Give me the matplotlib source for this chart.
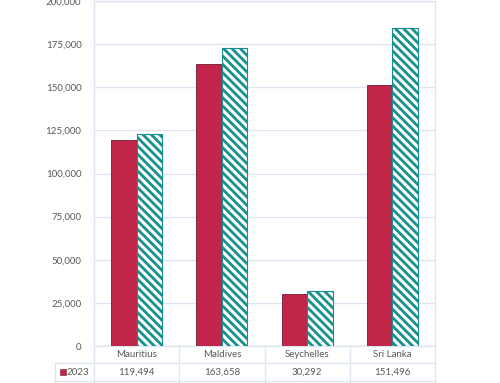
import numpy as np
import matplotlib
matplotlib.use("Agg")
import matplotlib.pyplot as plt
from matplotlib.ticker import FuncFormatter
import matplotlib.transforms as mtransforms

countries = ["Mauritius", "Maldives", "Seychelles", "Sri Lanka"]
series_name = "2023"
values_2023 = [119494, 163658, 30292, 151496]
values_2024 = [123000, 173000, 32000, 184300]

red = "#C1264A"
teal = "#16908F"
grid_col = "#DDE6F0"
text_col = "#595959"

plt.rcParams["font.family"] = ["Lato", "DejaVu Sans"]
plt.rcParams["hatch.linewidth"] = 2.0

fig = plt.figure(figsize=(5.0, 3.83), dpi=100)
ax = fig.add_axes([0.188, 0.0966, 0.682, 0.9005])

x = np.arange(len(countries))
w = 0.3
ax.bar(x - w / 2, values_2023, w, color=red, edgecolor="#6E1A2E", linewidth=0.6, zorder=3)
ax.bar(x + w / 2, values_2024, w, color="white", edgecolor=teal, hatch="\\\\\\\\",
       linewidth=0.8, zorder=3)

ax.set_xlim(-0.5, 3.5)
ax.set_ylim(0, 200000)
ax.set_yticks(np.arange(0, 200001, 25000))
ax.yaxis.set_major_formatter(FuncFormatter(lambda v, p: f"{int(v):,}"))
ax.tick_params(axis="y", length=0, labelsize=7, labelcolor=text_col, pad=9)
ax.set_xticks([])
ax.grid(axis="y", color=grid_col, linewidth=1.0, zorder=0)
for s in ax.spines.values():
    s.set_color(grid_col)
    s.set_linewidth(1.0)

# data table below the plot (second series row falls below the picture)
trans = mtransforms.blended_transform_factory(ax.transData, ax.transAxes)
row_h = 0.0505
label_left = -0.957
line_kw = dict(color=grid_col, linewidth=1.0, transform=trans, clip_on=False)

for b in np.arange(-0.5, 3.6, 1.0):
    ax.plot([b, b], [0, -3 * row_h], **line_kw)
ax.plot([label_left, label_left], [-row_h, -3 * row_h], **line_kw)
for r in (1, 2):
    ax.plot([label_left, 3.5], [-r * row_h, -r * row_h], **line_kw)

for i, c in enumerate(countries):
    ax.text(i, -0.5 * row_h, c, transform=trans, ha="center", va="center",
            fontsize=7, color=text_col)

yc = -1.5 * row_h
for i, v in enumerate(values_2023):
    ax.text(i, yc, f"{v:,}", transform=trans, ha="center", va="center",
            fontsize=7, color=text_col)
ax.scatter([label_left + 0.09], [yc], marker="s", s=16, color=red, transform=trans,
           clip_on=False, edgecolors="#6E1A2E", linewidths=0.4)
ax.text(label_left + 0.14, yc, series_name, transform=trans, ha="left", va="center",
        fontsize=7, color=text_col)

fig.savefig("out.png", dpi=100)
